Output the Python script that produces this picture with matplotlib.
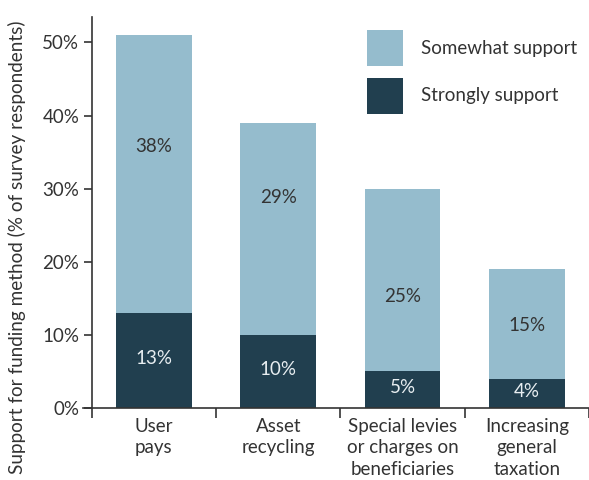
import matplotlib
matplotlib.use("Agg")
import matplotlib.pyplot as plt
from matplotlib.patches import Patch
import numpy as np

plt.rcParams['font.family'] = ['Lato', 'DejaVu Sans']

# Funding methods and share of respondents (%)
methods = ["User\npays", "Asset\nrecycling", "Special levies\nor charges on\nbeneficiaries",
           "Increasing\ngeneral\ntaxation"]
strongly = [13, 10, 5, 4]
somewhat = [38, 29, 25, 15]
y_ticks = [0, 10, 20, 30, 40, 50]

# where the "somewhat" value labels sit inside each segment (0 = bottom, 1 = top)
somewhat_label_frac = [0.60, 0.65, 0.41, 0.49]

light = "#95bccd"
dark = "#213f4f"
txt = "#333333"
fs = 13.5

fig = plt.figure(figsize=(5.89, 4.8), dpi=100)
ax = fig.add_axes([0.141, 0.15, 0.859, 0.815])

x = np.arange(len(methods))
w = 0.61
ax.bar(x, strongly, w, color=dark)
ax.bar(x, somewhat, w, bottom=strongly, color=light)

for i in range(len(methods)):
    ax.text(x[i], strongly[i] / 2 + 0.3, f"{strongly[i]}%", ha="center", va="center",
            color="#e8eef1", fontsize=fs)
    ax.text(x[i], strongly[i] + somewhat[i] * somewhat_label_frac[i], f"{somewhat[i]}%",
            ha="center", va="center", color=txt, fontsize=fs)

ax.set_xlim(-0.57, 3.5)
ax.set_ylim(0, 53.5)
ax.spines['left'].set_position(('data', -0.5))
ax.spines['top'].set_visible(False)
ax.spines['right'].set_visible(False)
for s in ('left', 'bottom'):
    ax.spines[s].set_color("#333333")
    ax.spines[s].set_linewidth(1.2)

ax.set_yticks(y_ticks)
ax.set_yticklabels([f"{v}%" for v in y_ticks])
ax.tick_params(axis='y', length=6, width=1.2, color="#333333", labelsize=fs,
               labelcolor=txt, pad=3)

# category labels on major ticks, separator ticks between bars
ax.set_xticks(x)
ax.set_xticklabels(methods, fontsize=fs, color=txt, linespacing=1.32)
ax.tick_params(axis='x', which='major', length=0, pad=7)
ax.set_xticks(np.arange(-0.5, 4, 1), minor=True)
ax.tick_params(axis='x', which='minor', length=7, width=1.2, color="#333333")

ax.set_ylabel("Support for funding method (% of survey respondents)", fontsize=13.6,
              color=txt)
ax.yaxis.set_label_coords(-0.112, 0.41)

handles = [Patch(facecolor=light, label="Somewhat support"),
           Patch(facecolor=dark, label="Strongly support")]
fig.legend(handles=handles, loc="upper left", bbox_to_anchor=(0.623, 0.9375),
           frameon=False, fontsize=fs, handlelength=1.9, handleheight=2.6,
           handletextpad=1.0, labelspacing=0.6, borderpad=0, borderaxespad=0,
           labelcolor=txt)

fig.savefig("out.png", dpi=100)
